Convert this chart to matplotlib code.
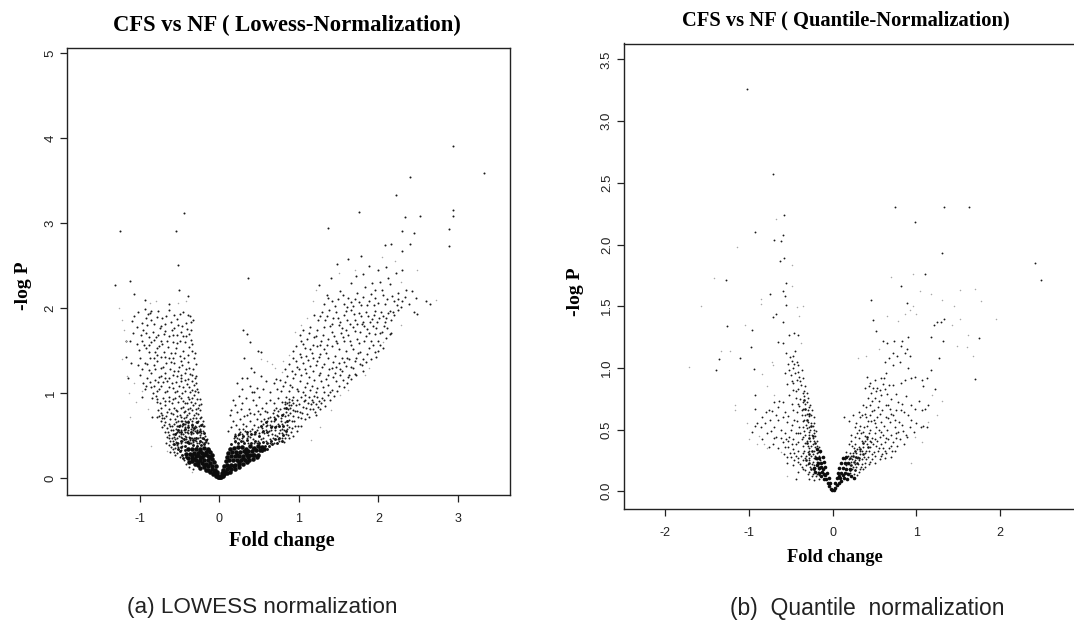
import numpy as np
from matplotlib import pyplot as plt

plt.rcParams['font.family'] = ['Liberation Serif', 'DejaVu Serif']

################### PANEL A DATA ###################
a_xticks = [-1, 0, 1, 2, 3]
a_yticks = [0, 1, 2, 3, 4, 5]

a_outliers = [(2.94,3.91),(3.33,3.59),(2.39,3.54),(2.22,3.33),(2.94,3.15),(2.94,3.08),(1.76,3.13),(2.33,3.07),
    (2.52,3.08),(-0.45,3.12),(-1.25,2.91),(-0.55,2.91),(1.36,2.94),(2.89,2.93),(2.89,2.73),(2.29,2.91),(2.45,2.88),
    (2.30,2.67),(2.08,2.74),(2.16,2.75),(2.40,2.75),(-0.52,2.51),(-1.31,2.27),(-1.13,2.32),(-1.07,2.17),(-0.94,2.10),
    (-0.51,2.21),(-0.39,2.14),(-0.63,2.05),(0.36,2.35),(1.62,2.58),(1.78,2.62),(2.60,2.08),(2.49,1.93),(2.47,2.12),
    (2.65,2.05),(1.48,2.52),(1.40,2.36),(1.25,2.27)]

a_left_high = [(-1.02,1.96),(-0.94,1.99),(-0.90,1.93),(-0.86,1.86),(-0.78,1.90),(-0.72,1.88),(-0.63,1.98),(-0.57,1.92),
    (-0.50,1.93),(-0.46,1.95),(-0.42,1.83),(-0.36,1.84),(-0.33,1.86),(-1.10,1.85),(-1.04,1.78),(-0.96,1.74),(-0.91,1.80),
    (-0.84,1.72),(-0.80,1.66),(-0.75,1.77),(-0.70,1.70),(-0.66,1.62),(-0.60,1.75),(-0.54,1.68),(-0.48,1.72),(-0.44,1.60),
    (-0.38,1.70),(-0.34,1.58),(-1.13,1.62),(-1.04,1.58),(-0.97,1.62),(-0.92,1.53),(-0.86,1.60),(-0.81,1.49),(-0.76,1.56),
    (-0.70,1.48),(-0.65,1.55),(-0.61,1.47),(-0.55,1.53),(-0.50,1.44),(-0.46,1.50),(-0.40,1.45),(-0.35,1.50),(-0.31,1.47),
    (-1.17,1.43),(-1.00,1.42),(-0.94,1.36),(-0.88,1.42),(-0.83,1.33),(-0.78,1.38),(-0.73,1.30),(-0.67,1.36),(-0.62,1.28),
    (-0.57,1.36),(-0.52,1.26),(-0.47,1.33),(-0.43,1.24),(-0.38,1.30),(-0.34,1.22),(-0.30,1.34),(-0.29,1.20),(-1.15,1.18),
    (-1.00,1.22),(-0.96,1.12),(-0.91,1.18),(-0.86,1.07),(-0.81,1.16),(-0.76,1.05),(-0.71,1.13),(-0.66,1.03),(-0.60,1.12),
    (-0.56,1.02),(-0.51,1.09),(-0.47,1.00),(-0.41,1.11),(-0.37,1.01),(-0.32,1.10),(-0.28,1.05),(-0.94,1.05),(-0.84,1.00),
    (-0.74,1.20),(-0.64,1.18),(-0.54,1.20),(-0.44,1.16),(-0.35,1.15),(-0.89,1.27),(-0.69,1.24),(-0.49,1.22),(-0.79,1.45),
    (-0.59,1.60),(-0.69,1.82),(-0.52,1.80),(-0.40,1.92),(-0.86,1.97),(-0.99,1.68),(-0.89,1.66),(-0.74,1.62),(-0.50,1.62),
    (-1.07,1.91),(-0.98,1.83),(-0.93,1.71),(-0.87,1.94),(-0.82,1.81),(-0.77,1.97),(-0.73,1.79),(-0.67,1.91),(-0.61,1.84),
    (-0.58,1.69),(-0.53,1.87),(-0.47,1.79),(-0.41,1.76),(-0.37,1.91),(-1.09,1.71),(-1.01,1.51),(-0.95,1.57),(-0.89,1.49),
    (-0.83,1.63),(-0.78,1.53),(-0.72,1.58),(-0.68,1.43),(-0.63,1.67),(-0.58,1.41),(-0.53,1.59),(-0.48,1.38),(-0.42,1.67),
    (-0.39,1.37),(-0.36,1.63),(-0.32,1.41),(-1.03,1.33),(-0.97,1.29),(-0.91,1.34),(-0.86,1.24),(-0.81,1.28),(-0.76,1.19),
    (-0.71,1.31),(-0.66,1.14),(-0.61,1.37),(-0.59,1.21),(-0.55,1.13),(-0.51,1.31),(-0.46,1.07),(-0.42,1.29),(-0.39,1.17),
    (-0.33,1.29),(-0.31,1.03),(-0.93,1.09),(-0.88,1.13),(-0.83,1.08),(-0.79,1.03),(-0.73,1.09),(-0.69,1.01),(-0.63,1.07),
    (-0.58,1.06),(-0.53,1.03),(-0.49,1.14),(-0.44,1.03),(-0.38,1.07),(-0.35,1.04),(-0.29,1.12),(-0.27,1.01),(-0.77,1.13),
    (-0.68,1.18),(-0.57,1.26),(-0.48,1.18),(-0.37,1.23),(-0.31,1.18),(-0.83,1.41),(-0.74,1.43),(-0.64,1.41),(-0.56,1.47),
    (-0.45,1.41),(-0.38,1.54),(-0.89,1.57),(-0.77,1.68),(-0.68,1.73),(-0.57,1.77),(-0.46,1.67),(-0.36,1.74),(-0.93,1.89)]

a_left_mid = [(-0.80,0.97),(-0.75,0.88),(-0.71,0.95),(-0.77,0.80),(-0.72,0.75),(-0.68,0.86),(-0.64,0.96),(-0.60,0.88),
    (-0.66,0.78),(-0.62,0.70),(-0.56,0.95),(-0.55,0.80),(-0.52,0.90),(-0.48,0.95),(-0.44,0.88),(-0.40,0.96),(-0.36,0.90),
    (-0.32,0.98),(-0.28,0.93),(-0.26,0.86),(-0.30,0.82),(-0.35,0.80),(-0.40,0.82),(-0.45,0.78),(-0.50,0.75),(-0.56,0.70),
    (-0.60,0.62),(-0.68,0.66),(-0.72,0.60),(-0.65,0.55),(-0.58,0.52),(-0.53,0.62),(-0.47,0.68),(-0.42,0.72),(-0.37,0.70),
    (-0.32,0.74),(-0.27,0.76),(-0.23,0.72),(-0.22,0.64),(-0.26,0.62),(-0.30,0.66),(-0.34,0.60),(-0.39,0.63),(-0.44,0.60),
    (-0.49,0.57),(-0.54,0.47),(-0.62,0.44),(-0.67,0.42),(-0.58,0.40),(-0.51,0.50),(-0.46,0.52),(-0.41,0.54),(-0.36,0.52),
    (-0.31,0.56),(-0.26,0.54),(-0.21,0.56),(-0.18,0.50),(-0.22,0.47),(-0.27,0.47),(-0.32,0.48),(-0.37,0.45),(-0.42,0.46),
    (-0.47,0.44),(-0.52,0.41),(-0.56,0.36),(-0.61,0.37),(-0.74,0.68),(-0.78,0.90),(-0.70,0.71),(-0.63,0.82),(-0.58,0.76),
    (-0.46,0.84),(-0.38,0.77),(-0.33,0.86),(-0.24,0.80),(-0.42,0.66),(-0.55,0.58),(-0.36,0.58),(-0.29,0.60),(-0.24,0.58),
    (-0.47,0.61),(-0.52,0.68),(-0.60,0.47),(-0.55,0.53),(-0.44,0.50),(-0.33,0.43),(-0.28,0.41),(-0.40,0.41),(-0.47,0.38),
    (-0.53,0.30),(-0.50,0.25),(-0.45,0.21),(-0.56,0.27),(-0.48,0.33),(-0.42,0.17),(-0.38,0.13),(-0.33,0.11),
    (-0.79,0.93),(-0.73,0.83),(-0.69,0.91),(-0.74,0.77),(-0.70,0.63),(-0.67,0.73),(-0.63,0.91),(-0.61,0.77),(-0.59,0.93),
    (-0.57,0.83),(-0.54,0.73),(-0.51,0.97),(-0.49,0.83),(-0.46,0.91),(-0.43,0.79),(-0.41,0.89),(-0.38,0.93),(-0.34,0.94),
    (-0.31,0.89),(-0.27,0.83),(-0.25,0.93),(-0.23,0.87),(-0.29,0.77),(-0.33,0.71),(-0.37,0.83),(-0.41,0.74),(-0.45,0.71),
    (-0.49,0.67),(-0.53,0.79),(-0.57,0.64),(-0.61,0.57),(-0.64,0.64),(-0.66,0.49),(-0.69,0.55),(-0.63,0.51),(-0.59,0.57),
    (-0.56,0.46),(-0.53,0.55),(-0.50,0.63),(-0.48,0.49),(-0.45,0.57),(-0.43,0.64),(-0.40,0.57),(-0.38,0.49),(-0.35,0.64),
    (-0.33,0.53),(-0.31,0.61),(-0.28,0.53),(-0.27,0.68),(-0.25,0.49),(-0.23,0.53),(-0.20,0.61),(-0.19,0.46),(-0.21,0.67),
    (-0.17,0.43),(-0.20,0.41),(-0.24,0.44),(-0.29,0.44),(-0.34,0.47),(-0.39,0.44),(-0.44,0.43),(-0.49,0.41),(-0.54,0.39),
    (-0.59,0.35),(-0.63,0.39),(-0.57,0.31),(-0.52,0.37),(-0.55,0.43),(-0.59,0.44),(-0.64,0.47),(-0.51,0.55),(-0.47,0.47),
    (-0.42,0.49),(-0.36,0.42),(-0.31,0.45),(-0.26,0.42),(-0.22,0.43),(-0.18,0.43),(-0.15,0.41),(-0.16,0.46),(-0.24,0.51),
    (-0.28,0.57),(-0.33,0.57),(-0.39,0.53),(-0.44,0.55),(-0.49,0.52),(-0.57,0.49),(-0.72,0.71),(-0.76,0.73),(-0.66,0.59),
    (-0.62,0.61),(-0.55,0.66),(-0.49,0.72),(-0.44,0.67),(-0.39,0.68),(-0.34,0.67),(-0.29,0.71),(-0.25,0.71),(-0.21,0.62)]

a_left_dense = [(-0.17,0.45),(-0.21,0.48),(-0.25,0.44),(-0.29,0.47),(-0.33,0.45),(-0.37,0.48),(-0.41,0.43),(-0.45,0.46),(-0.49,0.44),
    (-0.53,0.42),(-0.57,0.40),(-0.20,0.53),(-0.24,0.56),(-0.28,0.54),(-0.32,0.59),(-0.36,0.55),(-0.40,0.60),(-0.44,0.58),(-0.48,0.54),
    (-0.52,0.57),(-0.56,0.52),(-0.23,0.63),(-0.28,0.66),(-0.34,0.63),(-0.39,0.66),(-0.46,0.64),(-0.51,0.61),(-0.19,0.40),(-0.23,0.39),
    (-0.28,0.38),(-0.33,0.39),(-0.38,0.41),(-0.43,0.38),(-0.48,0.37),(-0.52,0.34),(-0.44,0.33),(-0.47,0.28),(-0.50,0.32),(-0.42,0.25),(-0.46,0.24)]

a_left_core = [(-0.02,0.02),(-0.04,0.03),(-0.05,0.06),(-0.08,0.05),(-0.03,0.07),(-0.12,0.08),(-0.06,0.10),(-0.10,0.11),
    (-0.17,0.10),(-0.05,0.14),(-0.09,0.15),(-0.14,0.14),(-0.20,0.13),(-0.25,0.12),(-0.07,0.19),(-0.12,0.18),(-0.17,0.17),
    (-0.22,0.18),(-0.27,0.16),(-0.31,0.17),(-0.09,0.23),(-0.14,0.22),(-0.19,0.22),(-0.24,0.21),(-0.29,0.21),(-0.34,0.20),
    (-0.38,0.19),(-0.10,0.27),(-0.15,0.26),(-0.20,0.27),(-0.25,0.25),(-0.30,0.26),(-0.35,0.24),(-0.40,0.24),(-0.12,0.31),
    (-0.17,0.31),(-0.22,0.30),(-0.27,0.30),(-0.32,0.30),(-0.37,0.29),(-0.42,0.29),(-0.15,0.35),(-0.19,0.36),(-0.24,0.34),
    (-0.29,0.35),(-0.34,0.34),(-0.39,0.34),(-0.01,0.01),(-0.03,0.05),(-0.07,0.08),(-0.14,0.10),(-0.20,0.16),(-0.27,0.19),
    (-0.12,0.25),(-0.22,0.25),(-0.32,0.23),(-0.17,0.29),(-0.27,0.27),(-0.14,0.33),(-0.24,0.32),(-0.34,0.28)]

a_right_low = [(0.17,0.92),(0.24,0.97),(0.28,0.88),(0.33,0.95),(0.37,0.82),(0.42,0.92),(0.46,0.86),(0.50,0.96),(0.54,0.83),
    (0.13,0.74),(0.17,0.68),(0.22,0.78),(0.26,0.70),(0.30,0.64),(0.34,0.74),(0.38,0.68),(0.43,0.76),(0.47,0.70),(0.51,0.76),
    (0.56,0.70),(0.60,0.78),(0.64,0.72),(0.68,0.80),(0.72,0.74),(0.76,0.82),(0.80,0.76),(0.11,0.56),(0.15,0.60),(0.19,0.52),
    (0.24,0.58),(0.28,0.52),(0.32,0.56),(0.36,0.50),(0.41,0.58),(0.45,0.52),(0.49,0.60),(0.53,0.54),(0.58,0.62),(0.62,0.56),
    (0.66,0.62),(0.70,0.57),(0.74,0.64),(0.78,0.58),(0.82,0.66),(0.87,0.60),(0.91,0.68),(0.95,0.62),(0.99,0.72),(0.66,0.52),
    (0.72,0.50),(0.78,0.48),(0.84,0.52),(0.90,0.55),(0.58,0.44),(0.63,0.46),(0.69,0.42),(0.75,0.44),(0.81,0.43),(0.88,0.48),
    (0.93,0.50),(0.98,0.56),(1.03,0.62),(1.07,0.70),(0.86,0.74),(0.92,0.80),(0.96,0.86),(1.01,0.78),(1.05,0.84),(1.10,0.76),
    (1.14,0.82),(1.20,0.78),(1.24,0.84),(0.58,0.88),(0.63,0.92),(0.68,0.88),(0.73,0.94),(0.78,0.90),(0.83,0.87),(0.88,0.90),
    (0.93,0.96),(0.98,0.92),(1.03,0.96),(1.08,0.92),(1.13,0.96),(1.18,0.90),(1.23,0.96),(1.28,0.88),(1.32,0.92),(1.37,0.98),
    (0.84,0.96),(0.86,0.82),(0.90,0.86),(0.82,0.90),(0.88,0.93),(0.92,0.88),(0.55,0.64),(0.60,0.68),(0.65,0.68),(0.52,0.46),
    (0.47,0.42),(0.42,0.46),(0.36,0.42),(0.30,0.44),(0.25,0.46),(0.20,0.43),
    (0.21,0.63),(0.27,0.81),(0.31,0.73),(0.33,0.61),(0.39,0.77),(0.44,0.63),(0.48,0.79),(0.52,0.67),(0.57,0.79),(0.59,0.57),
    (0.61,0.71),(0.63,0.63),(0.67,0.77),(0.69,0.67),(0.71,0.61),(0.73,0.79),(0.75,0.53),(0.77,0.71),(0.79,0.64),(0.81,0.57),
    (0.83,0.73),(0.85,0.63),(0.87,0.69),(0.89,0.77),(0.91,0.59),(0.93,0.73),(0.94,0.67),(0.97,0.79),(0.99,0.61),(1.02,0.71),
    (1.04,0.77),(1.06,0.91),(1.09,0.83),(1.11,0.89),(1.15,0.87),(1.17,0.81),(1.19,0.97),(1.21,0.87),(1.25,0.91),(1.26,0.81),
    (0.61,0.51),(0.64,0.41),(0.67,0.47),(0.70,0.51),(0.73,0.46),(0.76,0.57),(0.79,0.53),(0.82,0.47),(0.85,0.58),(0.86,0.51),
    (0.55,0.47),(0.49,0.44),(0.44,0.41),(0.39,0.49),(0.34,0.47),(0.28,0.47),(0.23,0.51),(0.18,0.47),(0.50,0.53),(0.54,0.59),
    (0.47,0.57),(0.43,0.52),(0.38,0.56),(0.34,0.52),(0.30,0.58),(0.26,0.54),(0.22,0.47),(0.56,0.53),(0.60,0.63),(0.65,0.57),
    (0.68,0.72),(0.71,0.83),(0.74,0.73),(0.77,0.67),(0.81,0.83),(0.84,0.78),(0.87,0.86),(0.89,0.83),(0.85,0.88),(0.91,0.92),
    (0.95,0.79),(1.00,0.87),(1.07,0.98),(1.12,0.72),(1.16,0.92),(1.22,0.74),(1.29,0.94),(1.33,0.85),(1.39,0.92),(1.44,0.97)]

a_right_dense = [(0.15,0.40),(0.19,0.44),(0.23,0.41),(0.27,0.44),(0.31,0.41),(0.35,0.45),(0.40,0.42),(0.45,0.44),(0.50,0.41),(0.55,0.43),
    (0.60,0.41),(0.65,0.44),(0.70,0.46),(0.75,0.48),(0.80,0.51),(0.84,0.56),(0.20,0.50),(0.25,0.52),(0.30,0.50),(0.35,0.54),(0.40,0.52),
    (0.45,0.55),(0.50,0.50),(0.55,0.56),(0.60,0.54),(0.65,0.60),(0.70,0.60),(0.75,0.61),(0.80,0.62),(0.85,0.67),(0.42,0.36),(0.50,0.37),
    (0.57,0.38),(0.62,0.38),(0.66,0.40),(0.54,0.32),(0.60,0.34),(0.72,0.42),(0.78,0.44),(0.52,0.62),(0.58,0.66),(0.70,0.70),(0.78,0.75),(0.84,0.83)]

a_right_high = [(0.68,1.12),(0.72,1.05),(0.76,1.16),(0.80,1.08),(0.85,1.20),(0.89,1.10),(0.93,1.18),(0.97,1.05),(1.01,1.14),
    (1.05,1.02),(1.10,1.12),(1.14,1.04),(1.19,1.16),(1.23,1.06),(1.28,1.14),(1.32,1.02),(1.37,1.10),(1.41,1.04),(1.46,1.14),
    (1.50,1.08),(1.55,1.16),(1.60,1.12),(0.63,1.02),(0.55,1.05),(0.82,1.28),(0.87,1.34),(0.91,1.26),(0.96,1.38),(1.00,1.28),
    (1.05,1.36),(1.09,1.24),(1.14,1.32),(1.18,1.26),(1.23,1.38),(1.27,1.24),(1.32,1.34),(1.36,1.22),(1.41,1.30),(1.45,1.24),
    (1.50,1.36),(1.54,1.26),(1.59,1.32),(1.63,1.22),(1.68,1.30),(1.72,1.22),(1.77,1.34),(1.80,1.26),(0.92,1.50),(0.96,1.56),
    (1.01,1.46),(1.05,1.58),(1.09,1.44),(1.14,1.52),(1.18,1.42),(1.23,1.56),(1.27,1.46),(1.32,1.52),(1.36,1.42),(1.41,1.56),
    (1.45,1.44),(1.50,1.52),(1.54,1.42),(1.59,1.50),(1.63,1.40),(1.68,1.52),(1.72,1.42),(1.77,1.48),(1.81,1.40),(1.86,1.46),
    (1.90,1.40),(1.95,1.48),(2.00,1.50),(1.01,1.68),(1.05,1.74),(1.10,1.64),(1.14,1.78),(1.19,1.66),(1.23,1.74),(1.28,1.62),
    (1.32,1.78),(1.37,1.64),(1.41,1.72),(1.46,1.62),(1.50,1.80),(1.55,1.66),(1.59,1.74),(1.64,1.62),(1.68,1.78),(1.73,1.64),
    (1.77,1.72),(1.82,1.62),(1.86,1.76),(1.91,1.62),(1.95,1.70),(2.00,1.62),(2.05,1.72),(2.10,1.65),(2.14,1.70),(1.19,1.92),
    (1.24,1.86),(1.29,1.96),(1.33,1.86),(1.38,1.98),(1.43,1.88),(1.47,1.96),(1.52,1.84),(1.56,1.92),(1.61,1.86),(1.66,1.98),
    (1.70,1.86),(1.75,1.94),(1.80,1.84),(1.84,1.96),(1.89,1.84),(1.94,1.92),(1.98,1.84),(2.03,1.96),(2.08,1.84),(2.12,1.94),
    (2.16,1.86),(2.20,1.92),(2.25,1.98),(1.31,2.05),(1.37,2.12),(1.45,2.03),(1.52,2.20),(1.57,2.05),(1.62,2.12),(1.68,2.03),
    (1.73,2.18),(1.78,2.04),(1.83,2.25),(1.88,2.08),(1.92,2.30),(1.96,2.12),(2.00,2.45),(2.04,2.22),(2.08,2.05),(2.12,2.36),
    (2.17,2.14),(2.22,2.42),(2.25,2.18),(2.30,2.08),(2.35,2.22),(2.38,2.05),(1.65,2.30),(1.72,2.38),(1.80,2.40),(1.88,2.50),
    (1.96,2.22),(2.10,2.48),(2.30,2.45),(2.42,2.20),(1.35,2.16),(2.45,1.95),
    (0.71,1.17),(0.77,1.03),(0.83,1.13),(0.87,1.03),(0.91,1.07),(0.95,1.23),(0.99,1.03),(1.03,1.21),(1.07,1.07),(1.12,1.19),
    (1.16,1.09),(1.21,1.01),(1.25,1.21),(1.30,1.07),(1.34,1.17),(1.39,1.01),(1.43,1.19),(1.48,1.03),(1.52,1.21),(1.57,1.07),
    (1.62,1.19),(1.66,1.17),(1.70,1.23),(0.93,1.41),(0.98,1.31),(1.03,1.43),(1.07,1.29),(1.11,1.39),(1.16,1.47),(1.21,1.33),
    (1.25,1.43),(1.29,1.31),(1.34,1.47),(1.38,1.29),(1.43,1.37),(1.47,1.31),(1.52,1.29),(1.56,1.37),(1.61,1.41),(1.65,1.31),
    (1.70,1.38),(1.74,1.47),(1.79,1.33),(1.84,1.37),(1.88,1.53),(1.93,1.57),(1.97,1.43),(2.02,1.57),(2.06,1.53),(1.03,1.61),
    (1.08,1.53),(1.12,1.71),(1.17,1.57),(1.21,1.67),(1.26,1.57),(1.30,1.69),(1.35,1.57),(1.39,1.79),(1.44,1.67),(1.48,1.59),
    (1.53,1.71),(1.57,1.61),(1.62,1.69),(1.66,1.57),(1.71,1.73),(1.75,1.59),(1.79,1.81),(1.84,1.67),(1.88,1.71),(1.93,1.79),
    (1.97,1.77),(2.02,1.71),(2.07,1.79),(2.11,1.77),(2.16,1.71),(1.27,1.91),(1.35,1.91),(1.41,1.81),(1.49,1.89),(1.54,1.77),
    (1.59,1.97),(1.64,1.81),(1.69,1.93),(1.73,1.81),(1.78,1.91),(1.82,1.79),(1.87,1.91),(1.92,1.87),(1.96,1.97),(2.01,1.89),
    (2.06,1.91),(2.10,1.89),(2.14,1.97),(2.18,1.96),(2.23,2.04),(1.42,2.08),(1.49,2.11),(1.55,2.16),(1.60,2.02),(1.65,2.07),
    (1.71,2.11),(1.76,2.07),(1.81,2.13),(1.85,2.04),(1.90,2.17),(1.94,2.04),(1.99,2.06),(2.02,2.31),(2.06,2.15),(2.11,2.11),
    (2.15,2.28),(2.19,2.08),(2.24,2.11),(2.28,2.01),(2.33,2.13)]

a_right_core = [(0.02,0.02),(0.04,0.03),(0.06,0.05),(0.03,0.06),(0.09,0.06),(0.13,0.08),(0.05,0.10),(0.09,0.11),(0.14,0.11),
    (0.19,0.11),(0.24,0.13),(0.06,0.15),(0.10,0.16),(0.15,0.16),(0.20,0.16),(0.25,0.17),(0.30,0.17),(0.35,0.19),(0.08,0.20),
    (0.12,0.21),(0.17,0.21),(0.22,0.21),(0.27,0.21),(0.32,0.22),(0.37,0.22),(0.42,0.23),(0.47,0.25),(0.09,0.25),(0.14,0.26),
    (0.19,0.26),(0.24,0.26),(0.29,0.26),(0.34,0.27),(0.39,0.27),(0.44,0.28),(0.49,0.28),(0.11,0.30),(0.16,0.31),(0.21,0.31),
    (0.26,0.31),(0.31,0.32),(0.36,0.32),(0.41,0.32),(0.46,0.33),(0.51,0.33),(0.56,0.34),(0.13,0.35),(0.18,0.36),(0.23,0.37),
    (0.28,0.37),(0.38,0.38),(0.48,0.38),(0.01,0.01),(0.03,0.04),(0.07,0.08),(0.12,0.13),(0.18,0.14),(0.24,0.19),(0.30,0.24),
    (0.36,0.25),(0.42,0.27),(0.33,0.30),(0.22,0.28),(0.54,0.37),(0.44,0.36),(0.33,0.35)]

a_faint = [(-1.23,1.86),(-1.18,1.62),(-1.22,1.40),(-1.12,0.72),(-1.05,0.90),(-1.14,1.00),(-0.86,0.38),(-0.42,2.08),(-0.80,2.08),
    (-0.88,2.06),(0.52,1.40),(0.66,1.35),(0.70,1.30),(0.78,1.25),(0.60,1.38),(1.17,2.08),(1.22,2.22),(2.72,2.10),(0.95,1.72),
    (1.50,2.42),(1.71,2.45),(2.21,2.55),(2.05,2.60),(2.28,2.31),(2.48,2.45),(-1.16,1.20),(-0.52,2.06),(1.15,0.45),(1.52,0.98),
    (1.88,1.30),(2.06,1.60),(2.28,1.80),(-0.34,0.08),(-1.08,1.12),(-0.98,1.03),(-0.90,0.82),(-0.66,0.32),(1.26,0.60),(1.40,0.80),
    (1.62,1.04),(1.83,1.22),(1.02,1.80),(0.88,1.45),(0.80,1.38),(1.10,1.88),(-1.20,1.75),(-1.26,2.00)]

a_scatter = [(0.30,1.75),(0.34,1.70),(0.38,1.60),(0.48,1.50),(0.52,1.48),(0.31,1.42),(0.40,1.30),(0.44,1.25),(0.52,1.20),(0.58,1.15),
    (0.28,1.18),(0.34,1.18),(0.22,1.12),(0.28,1.05),(0.38,1.08),(0.44,1.02),(-1.17,1.61),(-1.11,1.36),(-0.97,0.96),(-0.85,0.94),
    (-0.62,0.31),(-0.78,0.72),(-0.85,0.72),(0.19,0.86),(0.15,0.80),(0.41,1.01),(0.47,1.06)]

################### PANEL B DATA ###################
b_xticks = [-2, -1, 0, 1, 2]
b_yticks = [0.0, 0.5, 1.0, 1.5, 2.0, 2.5, 3.0, 3.5]

b_outliers = [(-1.02,3.26),(-0.93,2.10),(-0.71,2.57),(-0.58,2.24),(-0.59,2.08),(-1.27,1.71),(-0.70,2.04),(-0.62,2.03),
    (-0.58,1.89),(-0.63,1.87),(-0.56,1.69),(-0.59,1.62),(-0.57,1.58),(-0.75,1.60),(-0.56,1.51),(0.74,2.30),(1.33,2.30),
    (1.63,2.30),(0.98,2.18),(1.31,1.93),(2.42,1.85),(2.49,1.71),(1.10,1.76),(0.82,1.66),(0.46,1.55),(0.89,1.53),
    (-1.11,1.08),(-0.98,1.17),(-0.94,0.99),(-1.26,1.34),(-0.97,1.31),(-0.93,0.78),(-0.93,0.67),(-1.36,1.07),(-1.40,0.98),
    (1.33,1.40),(1.29,1.37),(1.25,1.37),(1.21,1.35),(1.32,1.22),(1.17,1.25),(1.75,1.24),(1.27,1.08),(1.70,0.91),(-0.72,1.41),
    (-0.68,1.44),(-0.60,1.37),(-0.52,1.27),(-0.59,1.20),(-0.65,1.21),(-0.46,1.28),(-0.42,1.27),(0.60,1.22),(0.65,1.20),(0.73,1.22),
    (0.83,1.22),(0.89,1.15),(0.90,1.25),(0.92,1.10),(0.48,1.39),(0.52,1.30)]

b_left = [(-0.45,1.14),(-0.47,1.10),(-0.49,1.06),(-0.43,1.05),(-0.52,0.98),(-0.47,1.00),(-0.41,1.02),(-0.37,0.98),(-0.45,0.96),
    (-0.50,0.94),(-0.40,0.93),(-0.35,0.92),(-0.43,0.90),(-0.47,0.88),(-0.38,0.86),(-0.33,0.85),(-0.42,0.83),(-0.48,0.82),(-0.36,0.80),
    (-0.31,0.80),(-0.44,0.76),(-0.39,0.75),(-0.34,0.77),(-0.30,0.76),(-0.36,0.72),(-0.31,0.72),(-0.27,0.70),(-0.40,0.69),(-0.35,0.67),
    (-0.30,0.66),(-0.25,0.66),(-0.43,0.64),(-0.37,0.62),(-0.33,0.62),(-0.28,0.61),(-0.23,0.60),(-0.34,0.58),(-0.30,0.56),(-0.26,0.55),
    (-0.22,0.55),(-0.36,0.52),(-0.31,0.51),(-0.27,0.50),(-0.23,0.50),(-0.20,0.49),(-0.33,0.46),(-0.29,0.46),(-0.25,0.46),(-0.21,0.45),
    (-0.37,0.42),(-0.31,0.41),(-0.27,0.41),(-0.23,0.41),(-0.19,0.41),(-0.44,0.38),(-0.36,0.37),(-0.30,0.37),(-0.26,0.37),(-0.21,0.36),
    (-0.17,0.36),(-0.48,0.34),(-0.41,0.33),(-0.34,0.33),(-0.28,0.33),(-0.23,0.33),(-0.18,0.32),(-0.15,0.32),(-0.50,0.28),(-0.44,0.29),
    (-0.38,0.29),(-0.32,0.29),(-0.26,0.29),(-0.21,0.29),(-0.16,0.29),(-0.13,0.28),(-0.46,0.25),(-0.41,0.24),(-0.35,0.25),(-0.29,0.25),
    (-0.24,0.24),(-0.19,0.24),(-0.15,0.25),(-0.11,0.24),(-0.37,0.20),(-0.32,0.21),(-0.27,0.20),(-0.22,0.21),(-0.17,0.20),(-0.13,0.20),
    (-0.33,0.17),(-0.28,0.16),(-0.23,0.17),(-0.18,0.16),(-0.14,0.16),(-0.25,0.12),(-0.20,0.12),(-0.16,0.13),(-0.53,0.36),(-0.58,0.30),
    (-0.60,0.40),(-0.65,0.35),(-0.68,0.44),(-0.72,0.38),(-0.76,0.36),(-0.62,0.50),(-0.70,0.52),(-0.75,0.58),(-0.80,0.64),(-0.84,0.60),
    (-0.78,0.47),(-0.84,0.42),(-0.90,0.55),(-0.93,0.53),(-0.97,0.48),(-0.60,0.60),(-0.55,0.56),(-0.50,0.50),(-0.52,0.44),(-0.57,0.47),
    (-0.65,0.68),(-0.70,0.72),(-0.73,0.65),(-0.60,0.72),(-0.56,0.42),(-0.55,0.23),(-0.48,0.21),(-0.42,0.16),(-0.44,0.10),
    (-0.46,1.03),(-0.51,1.09),(-0.42,0.97),(-0.49,0.89),(-0.39,0.89),(-0.44,0.81),(-0.34,0.81),(-0.41,0.71),(-0.33,0.71),(-0.29,0.68),
    (-0.37,0.66),(-0.31,0.63),(-0.26,0.62),(-0.36,0.57),(-0.32,0.54),(-0.28,0.52),(-0.24,0.53),(-0.34,0.49),(-0.29,0.48),(-0.22,0.47),
    (-0.39,0.47),(-0.35,0.44),(-0.24,0.43),(-0.41,0.40),(-0.33,0.39),(-0.28,0.35),(-0.24,0.38),(-0.19,0.37),(-0.46,0.31),(-0.36,0.31),
    (-0.30,0.32),(-0.24,0.30),(-0.19,0.31),(-0.42,0.27),(-0.33,0.27),(-0.28,0.27),(-0.23,0.27),(-0.19,0.26),(-0.39,0.22),(-0.30,0.22),
    (-0.25,0.22),(-0.21,0.19),(-0.16,0.18),(-0.35,0.18),(-0.30,0.14),(-0.24,0.14),(-0.19,0.14),(-0.28,0.10),(-0.22,0.09),(-0.17,0.10),
    (-0.53,0.41),(-0.49,0.38),(-0.57,0.36),(-0.51,0.31),(-0.55,0.28),(-0.47,0.42),(-0.44,0.47),(-0.49,0.54),(-0.53,0.61),(-0.47,0.66),
    (-0.66,0.58),(-0.62,0.43),(-0.70,0.43),(-0.74,0.49),(-0.81,0.55),(-0.86,0.52),(-0.76,0.66),(-0.68,0.62),(-0.64,0.73),(-0.57,0.64),
    (-0.43,0.57),(-0.40,0.52),(-0.41,0.47),(-0.46,0.58),(-0.49,0.71),(-0.52,0.78),(-0.55,0.87),(-0.57,0.96),(-0.53,1.03),(-0.56,1.12)]

b_left_dense = [(-0.29,0.30),(-0.25,0.33),(-0.21,0.39),(-0.24,0.45),(-0.28,0.43),(-0.26,0.53),(-0.31,0.58),(-0.33,0.67),(-0.29,0.63),(-0.34,0.74),
    (-0.31,0.39),(-0.28,0.23),(-0.32,0.25),(-0.22,0.18),(-0.26,0.18)]

b_left_core = [(-0.02,0.02),(-0.04,0.04),(-0.03,0.07),(-0.06,0.07),(-0.05,0.11),(-0.08,0.10),(-0.11,0.10),(-0.07,0.15),(-0.11,0.14),
    (-0.14,0.12),(-0.09,0.20),(-0.12,0.18),(-0.16,0.19),(-0.10,0.24),(-0.14,0.23),(-0.18,0.23),(-0.12,0.28),(-0.16,0.27),(-0.20,0.27),
    (-0.01,0.01),(-0.15,0.33),(-0.19,0.34),(-0.09,0.13),(-0.13,0.16),(-0.17,0.15),(-0.21,0.16),(-0.14,0.20),(-0.19,0.21),(-0.23,0.19)]

b_right = [(0.13,0.60),(0.19,0.57),(0.24,0.62),(0.28,0.55),(0.33,0.60),(0.37,0.52),(0.41,0.93),(0.45,0.88),(0.38,0.84),(0.50,0.90),
    (0.46,0.80),(0.42,0.76),(0.53,0.84),(0.50,0.76),(0.57,0.92),(0.58,0.78),(0.63,0.96),(0.62,0.83),(0.66,0.70),(0.72,0.86),(0.70,0.75),
    (0.36,0.70),(0.40,0.68),(0.45,0.70),(0.49,0.66),(0.54,0.68),(0.59,0.66),(0.63,0.70),(0.31,0.64),(0.35,0.62),(0.40,0.60),(0.44,0.62),
    (0.49,0.58),(0.53,0.60),(0.58,0.56),(0.63,0.60),(0.68,0.56),(0.72,0.62),(0.76,0.66),(0.81,0.66),(0.85,0.64),(0.90,0.62),(0.27,0.52),
    (0.31,0.50),(0.36,0.48),(0.41,0.53),(0.45,0.50),(0.50,0.47),(0.55,0.50),(0.60,0.46),(0.65,0.50),(0.69,0.46),(0.74,0.52),(0.78,0.48),
    (0.83,0.54),(0.87,0.46),(0.92,0.52),(0.97,0.48),(1.05,0.52),(0.22,0.46),(0.26,0.44),(0.31,0.43),(0.35,0.41),(0.39,0.45),(0.44,0.41),
    (0.48,0.38),(0.53,0.41),(0.57,0.38),(0.62,0.40),(0.67,0.35),(0.72,0.40),(0.77,0.37),(0.80,0.42),(0.85,0.38),(0.19,0.38),(0.23,0.37),
    (0.27,0.38),(0.31,0.36),(0.36,0.36),(0.40,0.33),(0.45,0.36),(0.49,0.32),(0.54,0.33),(0.59,0.30),(0.64,0.31),(0.69,0.28),(0.16,0.32),
    (0.20,0.31),(0.24,0.31),(0.28,0.31),(0.33,0.30),(0.37,0.28),(0.42,0.28),(0.47,0.26),(0.51,0.23),(0.56,0.26),(0.15,0.26),(0.19,0.26),
    (0.23,0.26),(0.27,0.25),(0.31,0.25),(0.35,0.22),(0.39,0.23),(0.43,0.22),(0.16,0.21),(0.20,0.21),(0.24,0.20),(0.28,0.20),(0.32,0.18),
    (0.36,0.18),(0.17,0.15),(0.21,0.15),(0.25,0.14),(0.29,0.13),(0.62,1.05),(0.67,1.08),(0.72,1.12),(0.77,1.10),(0.80,1.05),(0.82,1.18),
    (0.86,1.12),(0.72,1.02),(0.90,1.00),(0.94,0.92),(0.98,0.93),(1.06,0.90),(1.12,0.92),(1.17,0.98),(1.08,0.85),(1.22,0.83),(0.82,0.88),
    (0.86,0.90),(1.03,0.73),(1.10,0.67),(1.06,0.66),(1.14,0.70),(1.08,0.53),(1.13,0.52),
    (0.43,0.85),(0.47,0.73),(0.52,0.81),(0.55,0.73),(0.60,0.87),(0.65,0.79),(0.68,0.67),(0.38,0.63),(0.42,0.57),(0.47,0.65),(0.51,0.55),
    (0.56,0.63),(0.61,0.53),(0.66,0.59),(0.70,0.63),(0.29,0.47),(0.33,0.53),(0.38,0.41),(0.43,0.47),(0.47,0.43),(0.52,0.37),(0.56,0.44),
    (0.60,0.35),(0.64,0.43),(0.70,0.37),(0.75,0.43),(0.22,0.41),(0.25,0.35),(0.29,0.34),(0.33,0.33),(0.38,0.31),(0.43,0.33),(0.47,0.30),
    (0.51,0.29),(0.57,0.29),(0.62,0.27),(0.18,0.29),(0.22,0.29),(0.26,0.28),(0.30,0.28),(0.35,0.26),(0.40,0.26),(0.45,0.24),(0.19,0.23),
    (0.22,0.24),(0.26,0.22),(0.30,0.22),(0.34,0.20),(0.38,0.20),(0.19,0.18),(0.23,0.18),(0.27,0.17),(0.31,0.16),
    (0.48,0.84),(0.56,0.82),(0.61,0.92),(0.67,0.86),(0.75,0.79),(0.78,0.72),(0.83,0.71),(0.88,0.77),(0.93,0.70),(0.98,0.67),(0.74,0.58),
    (0.79,0.56),(0.84,0.49),(0.89,0.44),(0.94,0.58),(1.00,0.55),(0.76,0.47),(0.71,0.33),(0.66,0.42),(0.58,0.48),(0.52,0.52),(0.46,0.57),
    (0.41,0.42),(0.34,0.47),(0.55,0.35),(0.62,0.33),(0.74,0.33),(0.46,0.40),(0.50,0.42),(0.41,0.38),(0.35,0.33),(0.29,0.27)]

b_right_dense = [(0.20,0.27),(0.24,0.29),(0.28,0.28),(0.25,0.24),(0.22,0.21),(0.27,0.33),(0.32,0.34),(0.36,0.39),(0.41,0.44),(0.31,0.27),
    (0.36,0.30),(0.26,0.17),(0.21,0.17),(0.29,0.23),(0.42,0.36)]

b_right_core = [(0.01,0.01),(0.03,0.03),(0.05,0.05),(0.03,0.07),(0.07,0.07),(0.10,0.08),(0.05,0.11),(0.09,0.11),(0.13,0.11),(0.17,0.10),
    (0.06,0.15),(0.10,0.15),(0.14,0.15),(0.18,0.14),(0.08,0.19),(0.12,0.19),(0.16,0.18),(0.20,0.18),(0.10,0.23),(0.14,0.23),(0.18,0.23),
    (0.12,0.27),(0.16,0.28),(0.07,0.12),(0.12,0.13),(0.22,0.12),(0.25,0.11)]

b_faint = [(-1.72,1.01),(-1.57,1.50),(-1.42,1.73),(-1.23,1.14),(-1.34,1.14),(-1.05,1.35),(-1.17,0.70),(-1.17,0.66),(-1.15,1.98),
    (-0.86,1.56),(-0.86,1.52),(-0.68,2.21),(-0.49,1.83),(-0.49,1.66),(-0.43,1.49),(-0.36,1.50),(0.70,1.74),(0.96,1.76),(1.04,1.62),
    (1.17,1.60),(1.52,1.63),(1.70,1.64),(1.31,1.55),(1.77,1.54),(0.96,1.50),(1.45,1.50),(1.95,1.40),(1.52,1.40),(1.42,1.35),(1.60,1.17),
    (1.48,1.18),(1.62,1.27),(1.68,1.10),(1.00,1.44),(0.92,1.47),(0.78,1.38),(0.65,1.42),(0.55,1.15),(0.40,1.10),(0.30,1.08),(-0.38,1.20),
    (-1.02,0.55),(-1.00,0.42),(-0.90,0.38),(-0.78,0.35),(-0.62,0.32),(-0.55,0.12),(0.98,0.44),(1.07,0.40),(0.93,0.23),(1.30,0.73),(1.14,0.56),
    (-0.72,1.02),(-0.85,0.95),(-0.73,1.05),(-0.40,1.42),(0.86,1.44),(-0.88,0.45),(-0.82,0.38),(-0.70,0.78),(-0.78,0.85),(1.25,0.62),(1.18,0.78)]


def draw_panel(ax, dark, dense, core, faint, ms_dark, ms_dense, ms_core):
    for group in dark:
        pts = np.array(group)
        ax.plot(pts[:, 0], pts[:, 1], ls='none', marker='o', ms=ms_dark, mew=0, color='#1a1a1a')
    for group in dense:
        pts = np.array(group)
        ax.plot(pts[:, 0], pts[:, 1], ls='none', marker='o', ms=ms_dense, mew=0, color='#141414')
    for group in core:
        pts = np.array(group)
        ax.plot(pts[:, 0], pts[:, 1], ls='none', marker='o', ms=ms_core, mew=0, color='#0c0c0c')
    pts = np.array(faint)
    ax.plot(pts[:, 0], pts[:, 1], ls='none', marker='o', ms=1.1, mew=0, color='#a8a8a8')


def style_axes(ax, xticks, yticks, ylabels, ypad):
    ax.set_xticks(xticks)
    ax.set_xticklabels([str(t) for t in xticks], fontsize=9, family='Liberation Sans', color='#222222')
    ax.set_yticks(yticks)
    ax.set_yticklabels(ylabels, fontsize=9.5, family='Liberation Sans', rotation=90, va='center', color='#222222')
    ax.tick_params(length=5, width=0.9, color='#222222')
    ax.tick_params(axis='x', pad=8)
    ax.tick_params(axis='y', pad=ypad)
    for s in ax.spines.values():
        s.set_linewidth(1.0)
        s.set_color('#222222')


W, H = 1074, 620
fig = plt.figure(figsize=(W/100, H/100), dpi=100)

ax1 = fig.add_axes([67/W, 1-494.5/H, (510-67)/W, (494.5-48)/H])
draw_panel(ax1, [a_outliers, a_left_high, a_left_mid, a_right_low, a_right_high, a_scatter],
           [a_left_dense, a_right_dense], [a_left_core, a_right_core], a_faint, 1.45, 2.1, 3.3)
ax1.set_xlim(-1.918, 3.654)
ax1.set_ylim(-0.19, 5.06)
style_axes(ax1, a_xticks, a_yticks, [str(t) for t in a_yticks], 2.5)

ax2 = fig.add_axes([624/W, 1-508.7/H, (1082-624)/W, (508.7-43.5)/H])
draw_panel(ax2, [b_outliers, b_left, b_right], [b_left_dense, b_right_dense], [b_left_core, b_right_core],
           b_faint, 1.35, 1.9, 2.6)
ax2.set_xlim(-2.494, 2.977)
ax2.set_ylim(-0.141, 3.629)
style_axes(ax2, b_xticks, b_yticks, ['%.1f' % t for t in b_yticks], 3)

###################TEXT###################
fig.text(287/W, 1-25/H, 'CFS vs NF ( Lowess-Normalization)', ha='center', va='center', fontsize=16.3, fontweight='bold')
fig.text(282/W, 1-541/H, 'Fold change', ha='center', va='center', fontsize=14.6, fontweight='bold')
fig.text(24/W, 1-286/H, '-log P', ha='center', va='center', rotation=90, fontsize=14, fontweight='bold')
fig.text(262/W, 1-607/H, '(a) LOWESS normalization', ha='center', va='center', fontsize=16.2, family='Liberation Sans', color='#222222')

fig.text(846/W, 1-20/H, 'CFS vs NF ( Quantile-Normalization)', ha='center', va='center', fontsize=14.75, fontweight='bold')
fig.text(835/W, 1-558/H, 'Fold change', ha='center', va='center', fontsize=13.2, fontweight='bold')
fig.text(576/W, 1-292/H, '-log P', ha='center', va='center', rotation=90, fontsize=14, fontweight='bold')
fig.text(867/W, 1-609/H, '(b)  Quantile  normalization', ha='center', va='center', fontsize=16.5, family='Liberation Sans', color='#222222')

fig.savefig('out.png', dpi=100)
